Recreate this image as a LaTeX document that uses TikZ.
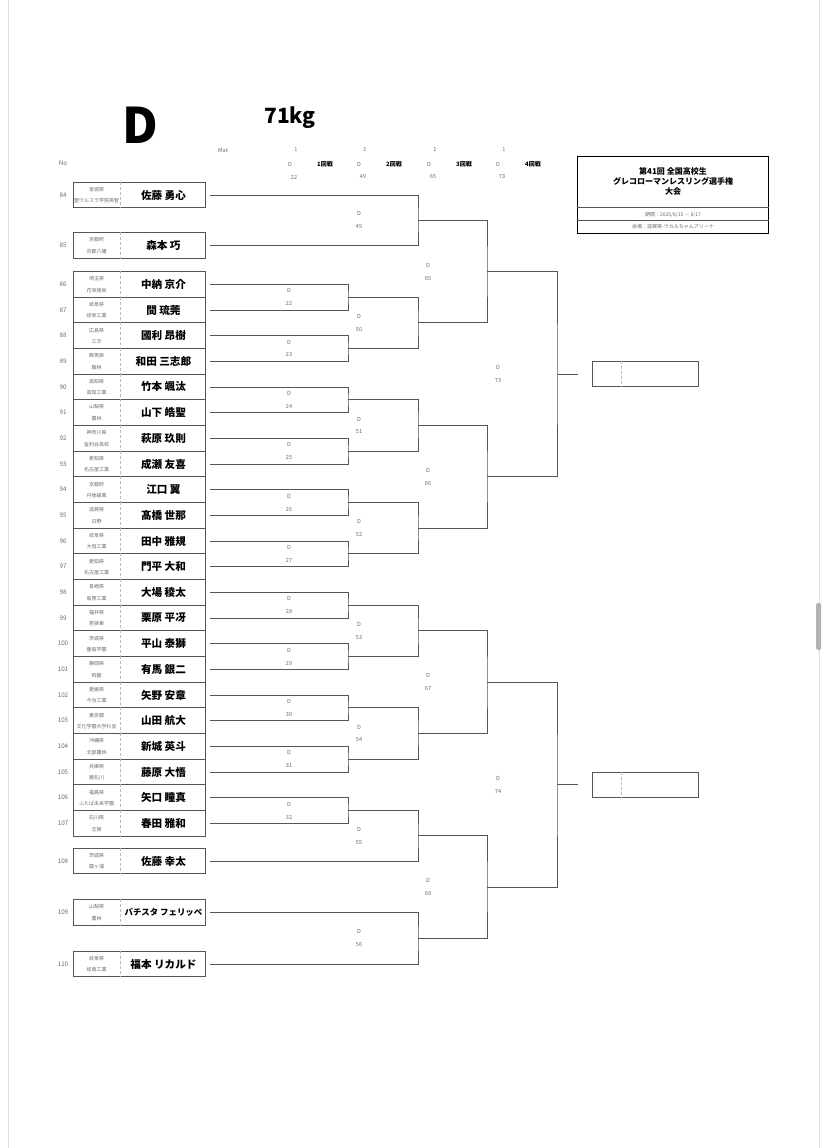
\documentclass[tikz,border=0pt]{standalone}
\usepackage{fontspec}
\setmainfont{Noto Sans CJK JP}
\usepackage{tikz}
\usetikzlibrary{calc,positioning}

\definecolor{linegray}{HTML}{555555}
\definecolor{txtgray}{HTML}{6A6A6A}
\definecolor{dashgray}{HTML}{BBBBBB}

\tikzset{
  entry/.style={draw=linegray,line width=0.9pt,minimum width=132pt,minimum height=25.67pt,inner sep=0pt},
  winbox/.style={draw=linegray,line width=0.9pt,minimum width=106pt,minimum height=25pt,inner sep=0pt},
  divider/.style={dashgray,densely dashed,line width=0.5pt},
  bracket/.style={linegray,line width=0.8pt},
  tiny/.style={txtgray,inner sep=0pt,font=\fontsize{5}{5}\selectfont},
  numlbl/.style={txtgray,inner sep=0pt,font=\fontsize{6.3}{6.3}\selectfont},
  matchlbl/.style={txtgray,inner sep=0pt,font=\fontsize{5.6}{5.6}\selectfont},
  namelbl/.style={inner sep=0pt,font=\fontsize{10.6}{10.6}\selectfont\bfseries},
}

\begin{document}
\begin{tikzpicture}[x=1pt,y=-1pt]
  \useasboundingbox (0,0) rectangle (828,1148);
  \draw[gray!25] (8,0) -- (8,1148);
  \draw[gray!25] (819,0) -- (819,1148);
  \fill[gray!60,rounded corners=1.5pt] (816,603) rectangle (821,650);

  % header
  \node[inner sep=0pt,font=\fontsize{49}{49}\selectfont\bfseries] (cls) at (140,125) {D};
  \node[inner sep=0pt,font=\fontsize{21}{21}\selectfont\bfseries] (wt) at (290,118) {71kg};
  \node[numlbl] (nohead) at (63,163) {No};
  \node[matchlbl] (mathead) at (223,150) {Mat};
  \foreach \i/\x/\r/\f in {1/290/1回戦/22, 2/359/2回戦/49, 3/429/3回戦/65, 4/498/4回戦/73}{
    \node[matchlbl] (mat\i) at (\x+6,150) {1};
    \node[matchlbl] (hd\i) at (\x,164) {D};
    \node[inner sep=0pt,font=\fontsize{6}{6}\selectfont\bfseries] (rd\i) at (\x+35,164) {\r};
    \node[matchlbl] (hn\i) at (\x+4,177) {\f};
  }

  % title box
  \node[draw=black,line width=0.9pt,minimum width=191pt,minimum height=77pt,inner sep=0pt] (t) at (673,194.5) {};
  \draw[linegray,line width=0.7pt] ([yshift=-52pt]t.north west) -- ([yshift=-52pt]t.north east);
  \draw[linegray,line width=0.7pt] ([yshift=-65pt]t.north west) -- ([yshift=-65pt]t.north east);
  \node[inner sep=0pt,align=center,font=\fontsize{8}{10.4}\selectfont\bfseries] (tt) at (673,181.5)
    {第41回 全国高校生\\グレコローマンレスリング選手権\\大会};
  \node[tiny] (period) at (673,214.5) {期間：2025/8/15 － 8/17};
  \node[tiny] (venue) at (673,227) {会場：滋賀県-ウカルちゃんアリーナ};

  % entries
  \foreach \no/\y/\pref/\school/\name in {
      84/195/宮城県/聖ウルスラ学院英智/佐藤 勇心,
      85/245.5/京都府/京都八幡/森本 巧,
      86/284.3/埼玉県/花咲徳栄/中納 京介,
      87/310.0/岐阜県/岐阜工業/間 琉莞,
      88/335.6/広島県/三次/國利 昂樹,
      89/361.3/群馬県/館林/和田 三志郎,
      90/387.0/高知県/高知工業/竹本 颯汰,
      91/412.6/山梨県/農林/山下 皓聖,
      92/438.3/神奈川県/釜利谷高校/萩原 玖則,
      93/464.0/愛知県/名古屋工業/成瀬 友喜,
      94/489.7/京都府/丹後緑風/江口 翼,
      95/515.3/滋賀県/日野/髙橋 世那,
      96/541.0/岐阜県/大垣工業/田中 雅規,
      97/566.7/愛知県/名古屋工業/門平 大和,
      98/592.3/長崎県/島原工業/大場 稜太,
      99/618.0/福井県/若狭東/栗原 平冴,
      100/643.7/茨城県/鹿島学園/平山 泰獅,
      101/669.3/静岡県/飛龍/有馬 銀二,
      102/695.0/愛媛県/今治工業/矢野 安章,
      103/720.7/東京都/文化学園大学杉並/山田 航大,
      104/746.4/沖縄県/北部農林/新城 英斗,
      105/772.0/兵庫県/猪名川/藤原 大悟,
      106/797.7/福島県/ふたば未来学園/矢口 瞳真,
      107/823.4/石川県/志賀/春田 雅和,
      108/861/茨城県/霞ヶ浦/佐藤 幸太,
      109/912.5/山梨県/農林/{\fontsize{8.4}{8.4}\selectfont バチスタ フェリッペ},
      110/964/岐阜県/岐南工業/福本 リカルド}{
    \node[entry] (e\no) at (139,\y) {};
    \node[numlbl] (n\no) at (63,\y) {\no};
    \node[tiny] (p\no) at ([xshift=24pt,yshift=5.5pt]e\no.west) {\pref};
    \node[tiny] (k\no) at ([xshift=24pt,yshift=-6pt]e\no.west) {\school};
    \node[namelbl] (a\no) at ([xshift=-42pt]e\no.east) {\name};
    \draw[divider] ([xshift=48pt]e\no.north west) -- ([xshift=48pt]e\no.south west);
    \coordinate (s\no) at ([xshift=5pt]e\no.east);
  }

  % round columns
  \coordinate (c1) at (348,0);
  \coordinate (c2) at (418,0);
  \coordinate (c3) at (487,0);
  \coordinate (c4) at (557,0);

  % bouts
  \foreach \n/\a/\b/\c in {
      22/s86/s87/c1, 23/s88/s89/c1, 24/s90/s91/c1, 25/s92/s93/c1,
      26/s94/s95/c1, 27/s96/s97/c1, 28/s98/s99/c1, 29/s100/s101/c1,
      30/s102/s103/c1, 31/s104/s105/c1, 32/s106/s107/c1,
      49/s84/s85/c2, 50/m22/m23/c2, 51/m24/m25/c2, 52/m26/m27/c2,
      53/m28/m29/c2, 54/m30/m31/c2, 55/m32/s108/c2, 56/s109/s110/c2,
      65/m49/m50/c3, 66/m51/m52/c3, 67/m53/m54/c3, 68/m55/m56/c3,
      73/m65/m66/c4, 74/m67/m68/c4}{
    \path ($(\a)!0.5!(\b)$) coordinate (h\n);
    \coordinate (m\n) at (h\n -| \c);
    \draw[bracket] (\a) -| (m\n) |- (\b);
    \node[matchlbl] (d\n) at ([xshift=-59pt,yshift=6.5pt]m\n) {D};
    \node[matchlbl] (g\n) at ([xshift=-59pt,yshift=-6.5pt]m\n) {\n};
  }

  % winners
  \foreach \n in {73,74}{
    \coordinate (o\n) at ([xshift=21pt]m\n);
    \draw[bracket] (m\n) -- (o\n);
    \node[winbox,right=14pt of o\n] (w\n) {};
    \draw[divider] ([xshift=29pt]w\n.north west) -- ([xshift=29pt]w\n.south west);
  }
\end{tikzpicture}
\end{document}
